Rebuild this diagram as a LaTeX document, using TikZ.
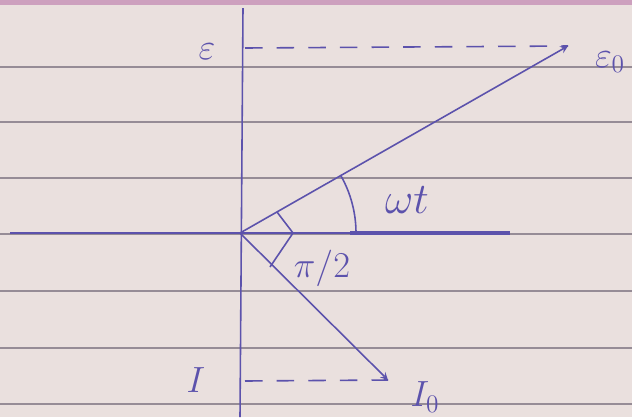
\documentclass[tikz,border=0pt]{standalone}
\definecolor{inkblue}{RGB}{92,82,172}
\definecolor{paper}{RGB}{234,224,222}
\definecolor{ruleline}{RGB}{150,140,150}
\definecolor{marginpink}{RGB}{205,160,190}
\usepackage{tikz}
\usetikzlibrary{positioning,arrows,calc}

\begin{document}
\begin{tikzpicture}[x=0.02cm,y=-0.02cm,
    ink/.style={draw=inkblue,line width=0.9pt},
    lbl/.style={text=inkblue,font=\huge}]
    \fill[paper] (0,0) rectangle (632,417);
    \useasboundingbox (0,0) rectangle (632,417);
    \fill[marginpink] (0,0) rectangle (632,5);
    \foreach \y in {67,122,178,234,291,348,404}
        \draw[ruleline,line width=1pt] (0,\y) -- (632,\y);
    \coordinate (O) at (240,233);
    \coordinate (top) at (243,8);
    \coordinate (bot) at (240,417);
    \coordinate (left) at (10,233);
    \coordinate (mid) at (350,233);
    \coordinate (right) at (510,233);
    \coordinate (Etip) at (568,46);
    \coordinate (Itip) at (388,380);
    \coordinate (Estart) at (245,48);
    \coordinate (Istart) at (245,381);
    \draw[ink] (top) -- (bot);
    \draw[ink] (left) -- (mid);
    \draw[ink,line width=1.8pt] (mid) -- (right);
    \draw[ink,->,>=stealth] (O) -- (Etip);
    \draw[ink,->,>=stealth] (O) -- (Itip);
    \draw[ink,dashed,dash pattern=on 10pt off 8pt] (Estart) -- (Etip);
    \draw[ink,dashed,dash pattern=on 10pt off 8pt] (Istart) -- (Itip);
    \draw[ink] (O) ++(0:116) arc (0:-30:116);
    \draw[ink] (277,212) -- (293,233) -- (270,267);
    \node[lbl] (eps) at (207,52) {$\varepsilon$};
    \node[lbl] (eps0) at (610,62) {$\varepsilon_0$};
    \node[lbl,font=\Huge] (wt) at (407,200) {$\omega t$};
    \node[lbl] (halfpi) at (322,268) {$\pi/2$};
    \node[lbl] (I) at (196,380) {$I$};
    \node[lbl] (I0) at (425,397) {$I_0$};
\end{tikzpicture}
\end{document}
